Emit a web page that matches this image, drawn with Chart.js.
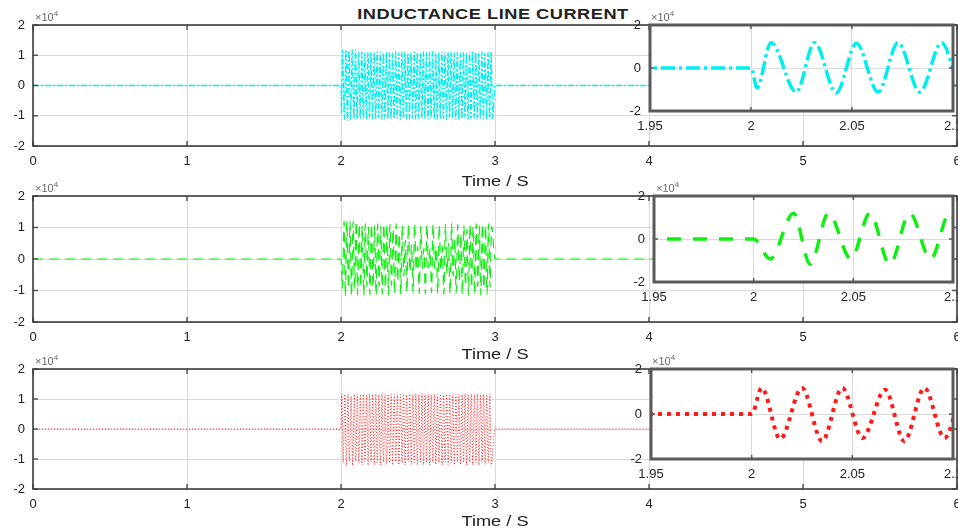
<!DOCTYPE html>
<html lang="en">
<head>
<meta charset="utf-8">
<title>Inductance line current</title>
<script src="https://cdn.jsdelivr.net/npm/chart.js@4.4.1/dist/chart.umd.min.js"></script>
<style>
  body { margin: 0; background: #fff; width: 958px; height: 532px; overflow: hidden; position: relative;
         font-family: "Liberation Sans", Arial, sans-serif; }
  canvas { position: absolute; }
  .lbl { position: absolute; white-space: nowrap; color: #222; transform: translate(-50%, -50%) scaleX(1.3); }
  .title { font-weight: bold; font-size: 14px; letter-spacing: 0.4px; }
  .xlab { font-size: 14px; }
  .exp { position: absolute; white-space: nowrap; font-size: 11px; color: #666; }
  .exp sup { font-size: 8px; }
</style>
</head>
<body>
  <div class="lbl title" style="left:493px; top:14px">INDUCTANCE LINE CURRENT</div>

  <canvas id="main-a"></canvas>
  <canvas id="main-b"></canvas>
  <canvas id="main-c"></canvas>
  <canvas id="zoom-a"></canvas>
  <canvas id="zoom-b"></canvas>
  <canvas id="zoom-c"></canvas>

  <div class="lbl xlab" style="left:495px; top:181px">Time / S</div>
  <div class="lbl xlab" style="left:495px; top:354px">Time / S</div>
  <div class="lbl xlab" style="left:495px; top:521px">Time / S</div>

  <div class="exp" style="left:35px; top:9px">&times;10<sup>4</sup></div>
  <div class="exp" style="left:35px; top:180px">&times;10<sup>4</sup></div>
  <div class="exp" style="left:35px; top:353px">&times;10<sup>4</sup></div>
  <div class="exp" style="left:651px; top:9px">&times;10<sup>4</sup></div>
  <div class="exp" style="left:656px; top:180px">&times;10<sup>4</sup></div>
  <div class="exp" style="left:652px; top:353px">&times;10<sup>4</sup></div>

<script>
  // current is in units of 1e4 A, time in s
  let leadT = [0, 2];     // flat zero before the fault
  let tailT = [3, 6];     // flat zero after it
  let bandStep = 0.01;    // half-period of the 50 Hz oscillation

  // extremes (2.0 .. 2.1 s)
  let cyanZoomT = [2.003, 2.0099, 2.0224, 2.0315, 2.0422, 2.0522, 2.0629, 2.0728, 2.0836, 2.0944, 2.105];
  let cyanZoomI = [-0.92, 1.18, -1.12, 1.18, -1.16, 1.15, -1.12, 1.18, -1.12, 1.18, -1.12];

  let greenZoomT = [2.0083, 2.020, 2.0284, 2.0375, 2.0488, 2.0583, 2.0683, 2.0783, 2.0888, 2.0983];
  let greenZoomI = [-0.93, 1.20, -1.18, 1.20, -0.93, 1.20, -1.18, 1.20, -0.93, 1.20];

  let redZoomT = [2.005, 2.0142, 2.025, 2.035, 2.045, 2.055, 2.0663, 2.0758, 2.0858, 2.0958];
  let redZoomI = [1.16, -1.11, 1.16, -1.21, 1.16, -1.07, 1.08, -1.21, 1.16, -1.07];

  // remaining extremes up to 3 s
  let cyanBandStart = 2.115;
  let cyanBand = [
    1.10, -1.09, 1.12, -1.10, 1.08, -1.12, 1.11, -1.08, 1.10, -1.11,
    1.09, -1.10, 1.12, -1.07, 1.10, -1.12, 1.08, -1.10, 1.11, -1.09,
    1.10, -1.11, 1.07, -1.10, 1.12, -1.08, 1.09, -1.12, 1.10, -1.09,
    1.12, -1.10, 1.08, -1.11, 1.10, -1.09, 1.11, -1.12, 1.09, -1.10,
    1.10, -1.08, 1.12, -1.10, 1.09, -1.11, 1.10, -1.09, 1.12, -1.10,
    1.08, -1.12, 1.10, -1.09, 1.11, -1.10, 1.09, -1.12, 1.10, -1.08,
    1.12, -1.10, 1.09, -1.11, 1.10, -1.12, 1.08, -1.10, 1.11, -1.09,
    1.10, -1.12, 1.09, -1.10, 1.12, -1.08, 1.10, -1.11, 1.09, -1.12,
    1.11, -1.10, 1.08, -1.12, 1.10, -1.09, 1.12, -1.10
  ];

  let greenBandStart = 2.108;
  let greenBand = [
    -1.15, 1.10, -0.90, 1.05, -1.15, 1.12, -0.88, 1.02, -1.14, 1.10,
    -0.90, 1.06, -1.15, 1.12, -0.88, 1.04, -1.12, 1.10, -0.92, 1.08,
    -1.15, 1.10, -0.85, 0.95, -1.10, 1.12, -0.70, 0.80, -1.12, 1.08,
    -0.55, 0.60, -1.05, 1.10, -0.40, 0.45, -1.08, 1.12, -0.35, 0.40,
    -1.10, 1.05, -0.30, 0.35, -1.12, 1.10, -0.28, 0.32, -1.08, 1.12,
    -0.30, 0.35, -1.10, 1.08, -0.35, 0.40, -1.12, 1.10, -0.45, 0.50,
    -1.10, 1.12, -0.55, 0.65, -1.08, 1.10, -0.70, 0.80, -1.12, 1.08,
    -0.85, 0.95, -1.15, 1.10, -0.90, 1.02, -1.14, 1.12, -0.88, 1.05,
    -1.15, 1.10, -0.92, 1.06, -1.12, 1.12, -0.90, 1.04
  ];

  let redBandStart = 2.106;
  let redBand = [
    1.16, -1.12, 1.15, -1.20, 1.16, -1.08, 1.14, -1.20, 1.16, -1.10,
    1.15, -1.19, 1.16, -1.12, 1.14, -1.20, 1.16, -1.10, 1.15, -1.18,
    1.16, -1.12, 1.15, -1.20, 1.14, -1.10, 1.16, -1.19, 1.15, -1.12,
    1.16, -1.20, 1.14, -1.10, 1.16, -1.18, 1.15, -1.12, 1.16, -1.20,
    1.14, -1.10, 1.16, -1.19, 1.15, -1.12, 1.16, -1.20, 1.14, -1.10,
    1.16, -1.18, 1.15, -1.12, 1.16, -1.20, 1.14, -1.10, 1.16, -1.19,
    1.15, -1.12, 1.16, -1.20, 1.14, -1.10, 1.16, -1.18, 1.15, -1.12,
    1.16, -1.20, 1.14, -1.10, 1.16, -1.19, 1.15, -1.12, 1.16, -1.20,
    1.14, -1.10, 1.16, -1.18, 1.15, -1.12, 1.16, -1.20
  ];

  let mainTicksY = [-2, -1, 0, 1, 2];
  let zoomTicksY = [-2, 0, 2];

  function series(zoomT, zoomI, bandStart, band) {
    let pts = [];
    leadT.forEach(t => pts.push({x: t, y: 0}));
    zoomT.forEach((t, i) => pts.push({x: t, y: zoomI[i]}));
    band.forEach((v, k) => pts.push({x: bandStart + k * bandStep, y: v}));
    tailT.forEach(t => pts.push({x: t, y: 0}));
    return pts;
  }

  let cyanData = series(cyanZoomT, cyanZoomI, cyanBandStart, cyanBand);
  let greenData = series(greenZoomT, greenZoomI, greenBandStart, greenBand);
  let redData = series(redZoomT, redZoomI, redBandStart, redBand);

  // white plot area, box and inward tick marks, the way MATLAB draws axes
  let boxPlugin = {
    id: 'box',
    beforeDraw(chart, args, opts) {
      let a = chart.chartArea, ctx = chart.ctx;
      ctx.save();
      ctx.fillStyle = '#fff';
      ctx.fillRect(a.left, a.top, a.right - a.left, a.bottom - a.top);
      ctx.restore();
    },
    afterDraw(chart, args, opts) {
      let a = chart.chartArea, ctx = chart.ctx, sx = chart.scales.x, sy = chart.scales.y;
      ctx.save();
      ctx.strokeStyle = opts.tickColor;
      ctx.lineWidth = 1.5;
      ctx.beginPath();
      sx.ticks.forEach(t => {
        let p = sx.getPixelForValue(t.value);
        ctx.moveTo(p, a.bottom); ctx.lineTo(p, a.bottom - opts.tick);
        ctx.moveTo(p, a.top); ctx.lineTo(p, a.top + opts.tick);
      });
      sy.ticks.forEach(t => {
        let p = sy.getPixelForValue(t.value);
        ctx.moveTo(a.left, p); ctx.lineTo(a.left + opts.tick, p);
        ctx.moveTo(a.right, p); ctx.lineTo(a.right - opts.tick, p);
      });
      ctx.stroke();
      ctx.strokeStyle = opts.color;
      ctx.lineWidth = opts.width;
      ctx.strokeRect(a.left, a.top, a.right - a.left, a.bottom - a.top);
      ctx.restore();
    }
  };

  let tickFont = {family: 'Liberation Sans', size: 13};

  function fixWidth(w) {
    return function(s) { s.width = w; s.paddingTop = 0; s.paddingBottom = 0; };
  }
  function fixHeight(h) {
    return function(s) { s.height = h; s.paddingLeft = 0; s.paddingRight = 0; };
  }

  function makeChart(id, box, cfg) {
    let c = document.getElementById(id);
    c.width = box.w; c.height = box.h;
    c.style.left = box.x + 'px'; c.style.top = box.y + 'px';
    return new Chart(c, {
      type: 'line',
      data: {datasets: [cfg.dataset]},
      plugins: [boxPlugin],
      options: {
        responsive: false,
        animation: false,
        events: [],
        layout: {padding: cfg.padding},
        elements: {point: {radius: 0}},
        plugins: {
          legend: {display: false},
          tooltip: {enabled: false},
          box: cfg.box
        },
        scales: {
          x: {
            type: 'linear', min: cfg.xMin, max: cfg.xMax,
            afterFit: fixHeight(cfg.axisH),
            afterBuildTicks: s => { s.ticks = cfg.xTicks.map(v => ({value: v})); },
            grid: {color: '#dadada', drawTicks: false},
            border: {display: false},
            ticks: {font: tickFont, color: '#222', padding: cfg.xPad, maxRotation: 0, autoSkip: false,
                    callback: v => String(+v.toFixed(2))}
          },
          y: {
            type: 'linear', min: -2, max: 2,
            afterFit: fixWidth(cfg.axisW),
            afterBuildTicks: s => { s.ticks = cfg.yTicks.map(v => ({value: v})); },
            grid: {color: '#dadada', drawTicks: false},
            border: {display: false},
            ticks: {font: tickFont, color: '#222', padding: cfg.yPad, autoSkip: false}
          }
        }
      }
    });
  }

  let mainXTicks = [0, 1, 2, 3, 4, 5, 6];
  let zoomXTicks = [1.95, 2, 2.05, 2.1];

  function mainLine(data, color, width, dash) {
    return {data: data, borderColor: color, borderWidth: width, borderDash: dash,
            cubicInterpolationMode: 'monotone', fill: false};
  }

  function mainPlot(id, top, bottom, dataset) {
    makeChart(id, {x: 0, y: top - 12, w: 958, h: bottom - top + 12 + 26}, {
      dataset: dataset,
      padding: {top: 12, right: 1, left: 0, bottom: 0},
      xMin: 0, xMax: 6, xTicks: mainXTicks, yTicks: mainTicksY,
      axisW: 33, axisH: 26, xPad: 8, yPad: 8,
      box: {color: '#3c3c3c', width: 1.6, tick: 5, tickColor: '#555'}
    });
  }

  function zoomPlot(id, left, right, top, bottom, dataset) {
    makeChart(id, {x: left - 30, y: top - 10, w: right - left + 36, h: bottom - top + 10 + 24}, {
      dataset: dataset,
      padding: {top: 10, right: 6, left: 0, bottom: 0},
      xMin: 1.95, xMax: 2.1, xTicks: zoomXTicks, yTicks: zoomTicksY,
      axisW: 30, axisH: 24, xPad: 8, yPad: 9,
      box: {color: '#5a5a5a', width: 3, tick: 4, tickColor: '#555'}
    });
  }

  mainPlot('main-a', 25, 146, mainLine(cyanData, '#00eeee', 1.3, [6, 2, 2, 2]));
  mainPlot('main-b', 196, 322, mainLine(greenData, '#11ee11', 1.2, [10, 6]));
  mainPlot('main-c', 369, 489, mainLine(redData, '#ff1a1a', 1, [1, 2]));

  zoomPlot('zoom-a', 650, 953, 25, 111, mainLine(cyanData, '#00eeee', 3.5, [14, 4, 3, 4]));
  zoomPlot('zoom-b', 654, 953, 196, 282, mainLine(greenData, '#11ee11', 3.5, [14, 12]));
  zoomPlot('zoom-c', 651, 953, 369, 459, mainLine(redData, '#ff1a1a', 4, [4, 5]));
</script>
</body>
</html>
